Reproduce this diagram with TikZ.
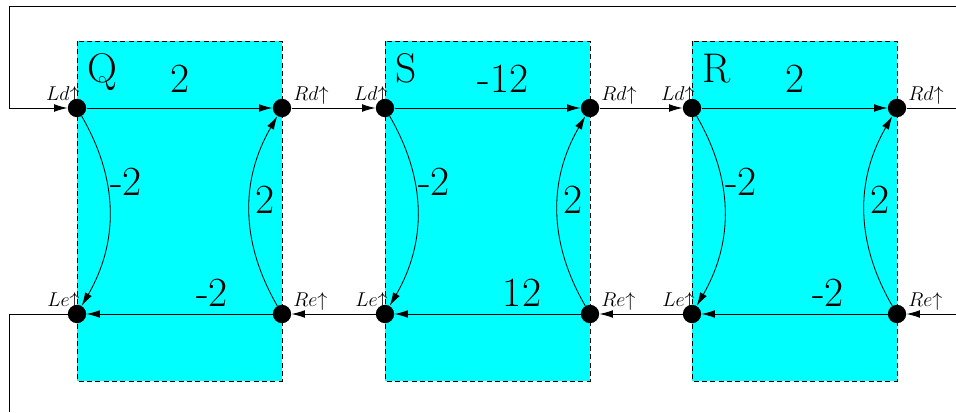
\documentclass[tikz,border=0pt]{standalone}
\usetikzlibrary{arrows.meta}
\definecolor{boxcyan}{RGB}{0,255,255}
\begin{document}
\begin{tikzpicture}[x=0.6pt,y=-0.6pt,
  dot/.style={circle,fill=black,minimum size=11pt,inner sep=0pt},
  conn/.style={line width=0.5pt},
  arr/.style={conn,-{Latex[length=8pt,width=4.6pt]}},
  blk/.style={dashed,dash pattern=on 3pt off 2pt,fill=boxcyan,draw=black,line width=0.5pt},
  big/.style={font=\Huge,inner sep=0pt},
  tag/.style={font=\large,inner sep=0pt}]
\useasboundingbox (0,0) rectangle (956,412);
\foreach \ox/\nm/\tl/\tx/\bl/\bx in {0/Q/2/180/-2/212, 308/S/-12/503/12/522, 615/R/2/795/-2/828}{
  \filldraw[blk] (77+\ox,41) rectangle (282+\ox,381);
  \node[dot] (Ld\nm) at (77+\ox,108) {};
  \node[dot] (Rd\nm) at (282+\ox,108) {};
  \node[dot] (Le\nm) at (77+\ox,314) {};
  \node[dot] (Re\nm) at (282+\ox,314) {};
  \node[tag,anchor=base east] (tLd\nm) at (80+\ox,100) {$Ld{\uparrow}$};
  \node[tag,anchor=base west] (tRd\nm) at (293+\ox,100) {$Rd{\uparrow}$};
  \node[tag,anchor=base east] (tLe\nm) at (80+\ox,306) {$Le{\uparrow}$};
  \node[tag,anchor=base west] (tRe\nm) at (293+\ox,306) {$Re{\uparrow}$};
  \node[big,anchor=base west] (n\nm) at (87+\ox,82) {\nm};
  \draw[arr] (Ld\nm) -- (Rd\nm);
  \draw[arr] (Re\nm) -- (Le\nm);
  \draw[arr] (Ld\nm) to[bend left=30] (Le\nm);
  \draw[arr] (Re\nm) to[bend left=30] (Rd\nm);
  \node[big,anchor=base] (lt\nm) at (\tx,92) {\tl};
  \node[big,anchor=base] (lb\nm) at (\bx,306) {\bl};
  \node[big] (ll\nm) at (126+\ox,182) {-2};
  \node[big] (lr\nm) at (265+\ox,200) {2};
}
\draw[arr] (RdQ) -- (LdS);
\draw[arr] (RdS) -- (LdR);
\draw[arr] (LeS) -- (ReQ);
\draw[arr] (LeR) -- (ReS);
\coordinate (eTR) at (956,6);
\coordinate (cTL) at (9,6);
\coordinate (cL) at (9,108);
\coordinate (cBL) at (9,314);
\coordinate (eBL) at (9,412);
\coordinate (eR) at (956,108);
\coordinate (eRB) at (956,314);
\draw[arr] (eTR) -- (cTL) -- (cL) -- (LdQ);
\draw[conn] (LeQ) -- (cBL) -- (eBL);
\draw[conn] (RdR) -- (eR);
\draw[arr] (eRB) -- (ReR);
\end{tikzpicture}
\end{document}
